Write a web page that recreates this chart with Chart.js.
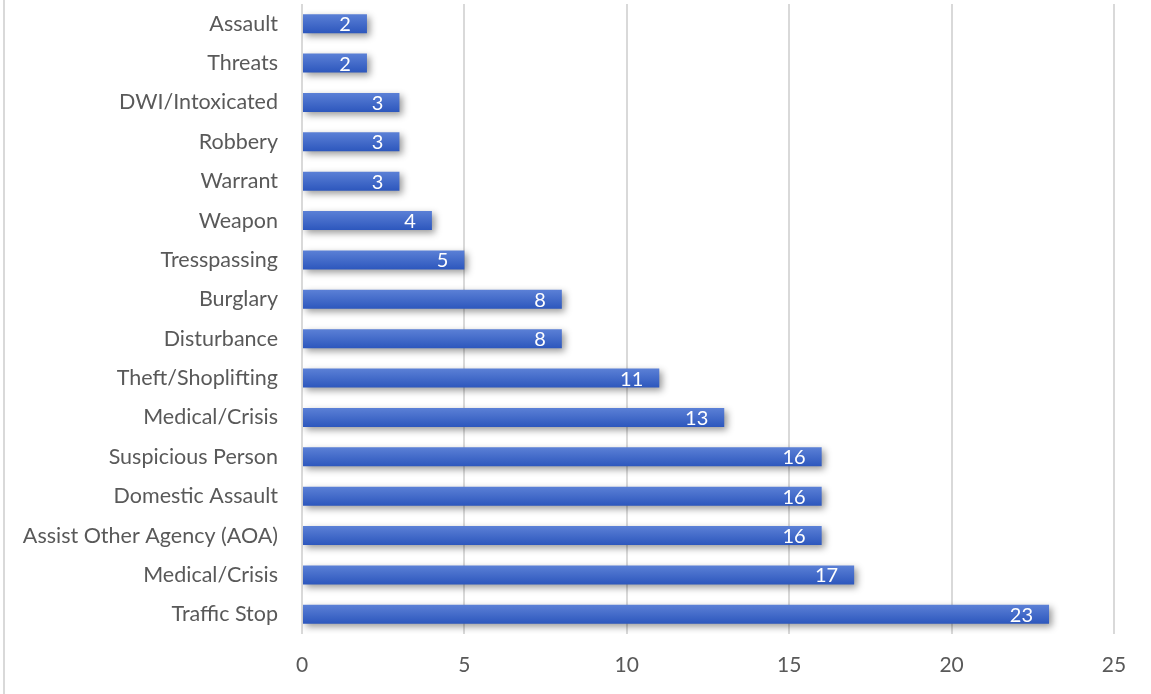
<!DOCTYPE html>
<html>
<head>
<meta charset="utf-8">
<script src="https://cdn.jsdelivr.net/npm/chart.js@4"></script>
<style>
  html, body { margin: 0; padding: 0; background: #fff; }
  #wrap { position: relative; width: 1151px; height: 694px; }
  #edge { position: absolute; left: 3px; top: 0; width: 2px; height: 694px; background: #d9d9d9; }
  canvas { display: block; }
</style>
</head>
<body>
<div id="wrap">
  <div id="edge"></div>
  <canvas id="graph" width="1151" height="694"></canvas>
</div>
<script>
// calls by type, top to bottom as in the picture
const categories = ['Assault', 'Threats', 'DWI/Intoxicated', 'Robbery', 'Warrant', 'Weapon',
  'Tresspassing', 'Burglary', 'Disturbance', 'Theft/Shoplifting', 'Medical/Crisis',
  'Suspicious Person', 'Domestic Assault', 'Assist Other Agency (AOA)', 'Medical/Crisis', 'Traffic Stop'];
const counts = [2, 2, 3, 3, 3, 4, 5, 8, 8, 11, 13, 16, 16, 16, 17, 23];
const xTicks = [0, 5, 10, 15, 20, 25];

const FONT = 'Lato, "Open Sans", sans-serif';
const BAR_PCT = 0.48;

// blue bar with lighter top edge
function barFill(c) {
  const chart = c.chart;
  const ys = chart.scales && chart.scales.y;
  if (!ys || !ys.height) return '#3a64c8';
  const mid = ys.getPixelForValue(c.dataIndex);
  const half = ys.height / categories.length * BAR_PCT / 2;
  const g = chart.ctx.createLinearGradient(0, mid - half, 0, mid + half);
  g.addColorStop(0, '#5b80d6');
  g.addColorStop(1, '#2d57bd');
  return g;
}

// drop shadow under bars
const shadow = {
  id: 'shadow',
  beforeDatasetsDraw(chart) {
    const ctx = chart.ctx;
    ctx.save();
    ctx.shadowColor = 'rgba(0,0,0,0.4)';
    ctx.shadowBlur = 7;
    ctx.shadowOffsetX = 3;
    ctx.shadowOffsetY = 3;
  },
  afterDatasetsDraw(chart) {
    chart.ctx.restore();
  }
};

// white value labels inside the bar end
const valueLabels = {
  id: 'valueLabels',
  afterDatasetsDraw(chart) {
    const ctx = chart.ctx;
    ctx.save();
    ctx.fillStyle = '#ffffff';
    ctx.font = '20px ' + FONT;
    ctx.textAlign = 'right';
    ctx.textBaseline = 'middle';
    chart.getDatasetMeta(0).data.forEach((el, i) => {
      ctx.fillText(String(counts[i]), el.x - 16, el.y + 1);
    });
    ctx.restore();
  }
};

new Chart(document.getElementById('graph'), {
  type: 'bar',
  data: {
    labels: categories,
    datasets: [{
      data: counts,
      backgroundColor: barFill,
      barPercentage: BAR_PCT,
      categoryPercentage: 1
    }]
  },
  options: {
    indexAxis: 'y',
    responsive: false,
    animation: false,
    layout: { padding: { top: 4, right: 37, left: 0, bottom: 0 } },
    plugins: { legend: { display: false }, tooltip: { enabled: false } },
    scales: {
      x: {
        min: 0, max: 25,
        afterBuildTicks(s) { s.ticks = xTicks.map(v => ({ value: v })); },
        afterFit(s) { s.height = 60; s.paddingLeft = 0; s.paddingRight = 0; },
        grid: { color: '#d9d9d9', lineWidth: 2, drawTicks: false },
        border: { display: false },
        ticks: { color: '#595959', font: { family: FONT, size: 21 }, padding: 19 }
      },
      y: {
        afterFit(s) { s.width = 302; s.paddingTop = 0; s.paddingBottom = 0; },
        grid: { display: false, drawTicks: false },
        border: { display: false },
        ticks: { color: '#595959', font: { family: FONT, size: 21.5 }, padding: 24, autoSkip: false }
      }
    }
  },
  plugins: [shadow, valueLabels]
});
</script>
</body>
</html>
